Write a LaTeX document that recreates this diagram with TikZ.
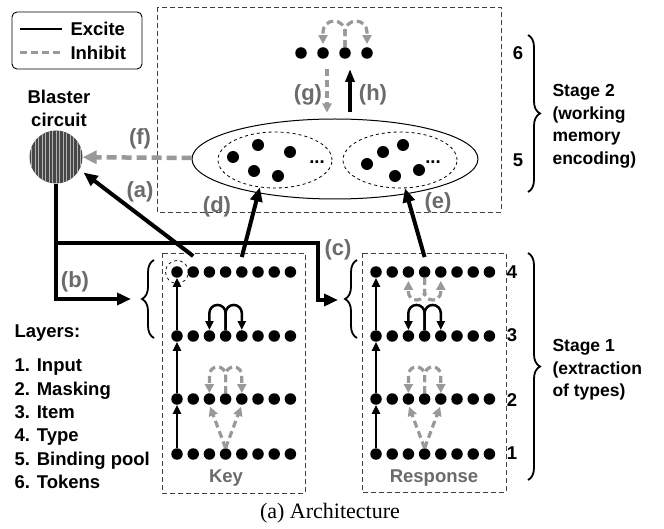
\documentclass[tikz,border=0pt]{standalone}
\usepackage{fontspec}
\setmainfont{Liberation Sans}
\newfontfamily\captionfont{Liberation Serif}
\usetikzlibrary{arrows.meta,shapes.geometric,decorations.pathreplacing}
\definecolor{inhgray}{gray}{0.6}
\definecolor{labgray}{gray}{0.42}

\begin{document}
\begin{tikzpicture}[x=1pt,y=-1pt,font=\bfseries\fontsize{18.5}{22}\selectfont]
	\tikzset{dot/.style={circle,fill,inner sep=0pt,minimum size=11.5pt}}
	\tikzset{excite/.style={line width=2.5pt,-{Triangle[length=9pt,width=8pt]}}}
	\tikzset{inhibit/.style={draw=inhgray,line width=3.2pt,dash pattern=on 7pt off 4pt,-{Triangle[length=9pt,width=9pt]}}}
	\tikzset{bigarrow/.style={line width=4pt,-{Triangle[length=14pt,width=12pt]}}}
	\tikzset{region/.style={draw=black!75,line width=0.9pt,dash pattern=on 5pt off 3pt}}
	\tikzset{tag/.style={text=labgray,font=\bfseries\fontsize{22}{24}\selectfont}}
	\tikzset{stagebrace/.style={decorate,decoration={brace,amplitude=12pt},line width=1.8pt}}
	\tikzset{stagetext/.style={anchor=west,align=left,font=\bfseries\fontsize{17.5}{22.5}\selectfont}}
	\useasboundingbox (0,0) rectangle (664,529);

	\draw[rounded corners=5pt,line width=0.9pt] (12,12) rectangle (142,69);
	\coordinate (ex-a) at (20,29); \coordinate (ex-b) at (62,29);
	\coordinate (in-a) at (20,53); \coordinate (in-b) at (62,53);
	\draw[line width=2.5pt] (ex-a) -- (ex-b);
	\draw[draw=inhgray,line width=3pt,dash pattern=on 7pt off 4pt] (in-a) -- (in-b);
	\node[anchor=west] (excite-lab) at (67,29) {Excite};
	\node[anchor=west] (inhibit-lab) at (67,53) {Inhibit};

	\draw[region] (157,7) rectangle (501,212);
	\draw[region] (162,253) rectangle (305,493);
	\draw[region] (362,253) rectangle (506,492);

	\foreach \r/\y in {1/454,2/399,3/336,4/272}
		\foreach \c in {1,...,8} {
			\node[dot] (k-\r-\c) at ({177+16.2*(\c-1)},\y) {};
			\node[dot] (r-\r-\c) at ({376+16.2*(\c-1)},\y) {};
		}
	\node[circle,draw,dashed,line width=0.7pt,minimum size=23pt] (focus) at (k-4-1) {};

	\foreach \s in {k,r} {
		\foreach \a/\b in {1/2,2/3,3/4}
			\draw[excite] (\s-\a-1) -- (\s-\b-1);
		\draw[inhibit,shorten >=2pt] (\s-1-4.north) -- (\s-2-3.south);
		\draw[inhibit,shorten >=2pt] (\s-1-4.north) -- (\s-2-5.south);
		\draw[inhibit] (\s-2-4.north) -- ++(0,-18) arc[start angle=0,end angle=-180,radius=8.1] -- (\s-2-3.north);
		\draw[inhibit] (\s-2-4.north) -- ++(0,-18) arc[start angle=180,end angle=360,radius=8.1] -- (\s-2-5.north);
		\draw[excite] (\s-3-4.north) -- ++(0,-17) arc[start angle=0,end angle=-180,radius=8.1] -- (\s-3-3.north);
		\draw[excite] (\s-3-4.north) -- ++(0,-17) arc[start angle=180,end angle=360,radius=8.1] -- (\s-3-5.north);
	}
	\draw[inhibit,shorten >=3pt] (r-4-4.south) -- ++(0,14) arc[start angle=0,end angle=180,radius=8.1] -- (r-4-3.south);
	\draw[inhibit,shorten >=3pt] (r-4-4.south) -- ++(0,14) arc[start angle=180,end angle=0,radius=8.1] -- (r-4-5.south);

	\foreach \c/\x in {1/301,2/323,3/345,4/367}
		\node[dot] (t-\c) at (\x,53) {};
	\draw[inhibit,shorten >=3pt] (t-3.north) -- ++(0,-15) arc[start angle=0,end angle=-180,radius=11] -- (t-2.north);
	\draw[inhibit,shorten >=3pt] (t-3.north) -- ++(0,-15) arc[start angle=180,end angle=360,radius=11] -- (t-4.north);

	\node[ellipse,draw,line width=1pt,minimum width=286pt,minimum height=80pt] (pool) at (335,159) {};
	\node[ellipse,draw,dashed,line width=0.8pt,minimum width=114pt,minimum height=56pt] (kpool) at (275,160) {};
	\node[ellipse,draw,dashed,line width=0.8pt,minimum width=114pt,minimum height=56pt] (rpool) at (400,160) {};
	\foreach \x/\y [count=\i] in {233/157,258/145,290/152,254/171,278/176}
		\node[dot,minimum size=12pt] (kp-\i) at (\x,\y) {};
	\foreach \x/\y [count=\i] in {367/164,383/152,403/145,395/176,419/170}
		\node[dot,minimum size=12pt] (rp-\i) at (\x,\y) {};
	\node (kp-more) at (317,162) {...};
	\node (rp-more) at (433,162) {...};

	\node[circle,minimum size=53pt,fill=black!72,path picture={
		\foreach \i in {-24.5,-21,...,25}
			\draw[white!70!black,line width=0.9pt] ([xshift=\i pt]path picture bounding box.north) -- ([xshift=\i pt]path picture bounding box.south);
	}] (blaster) at (56,157) {};
	\node[align=center,font=\bfseries\fontsize{18.5}{23}\selectfont] (blaster-lab) at (59,108) {Blaster\\circuit};

	\coordinate (kin) at (131,299);
	\coordinate (rin) at (338,300);
	\coordinate (split) at (56,243);
	\coordinate (turn) at (318,243);
	\coordinate (a-src) at ([yshift=10pt]k-4-2.north);
	\coordinate (d-src) at ([yshift=9pt]k-4-5.north);
	\coordinate (e-src) at ([yshift=9pt]r-4-4.north);
	\coordinate (g-top) at ([xshift=4pt]t-2.south);
	\coordinate (g-bot) at (g-top |- pool.north);
	\coordinate (h-top) at ([xshift=5pt]t-3.south);
	\coordinate (h-bot) at (h-top |- pool.north);

	\draw[bigarrow] (blaster) |- (kin);
	\draw[bigarrow] (split) -- (turn) |- (rin);
	\draw[bigarrow,shorten >=5pt] (a-src) -- (blaster.-28);
	\draw[bigarrow] (d-src) -- (kpool.241);
	\draw[bigarrow] (e-src) -- (rpool.280);
	\draw[inhibit,line width=4.5pt,dash pattern=on 10pt off 5pt,-{Triangle[length=14pt,width=13pt]}] (pool) -- (blaster);
	\draw[inhibit,shorten <=10pt,shorten >=6pt] (g-top) -- (g-bot);
	\draw[line width=4pt,-{Triangle[length=13pt,width=9pt]},shorten <=6pt,shorten >=10pt] (h-bot) -- (h-top);

	\node[tag] (lab-a) at (140,192) {(a)};
	\node[tag] (lab-b) at (75,282) {(b)};
	\node[tag] (lab-c) at (338,250) {(c)};
	\node[tag] (lab-d) at (217,207) {(d)};
	\node[tag] (lab-e) at (438,203) {(e)};
	\node[tag] (lab-f) at (140,139) {(f)};
	\node[tag] (lab-g) at (308,95) {(g)};
	\node[tag] (lab-h) at (373,95) {(h)};

	\draw[stagebrace] (528,35) -- (528,192);
	\draw[stagebrace] (528,253) -- (528,480);
	\draw[stagebrace] (154,338) -- (154,260);
	\draw[stagebrace] (357,338) -- (357,260);

	\foreach \n/\x/\y in {6/518/53,5/518/160,4/512/272,3/512/335,2/512/400,1/512/453}
		\node (num-\n) at (\x,\y) {\n};
	\node[stagetext] (stage2) at (549,126) {Stage 2\\(working\\memory\\encoding)};
	\node[stagetext] (stage1) at (549,370) {Stage 1\\(extraction\\of types)};

	\node[anchor=west] (layers) at (11,333) {Layers:};
	\node[anchor=west,align=left,font=\bfseries\fontsize{18.5}{23.4}\selectfont] (layerlist) at (11,424) {1. Input\\2. Masking\\3. Item\\4. Type\\5. Binding pool\\6. Tokens};
	\node[text=labgray] (key-lab) at (226,478) {Key};
	\node[text=labgray] (resp-lab) at (434,478) {Response};

	\node[font=\captionfont\mdseries\fontsize{22}{26}\selectfont] (caption) at (330,513) {(a) Architecture};
\end{tikzpicture}
\end{document}
